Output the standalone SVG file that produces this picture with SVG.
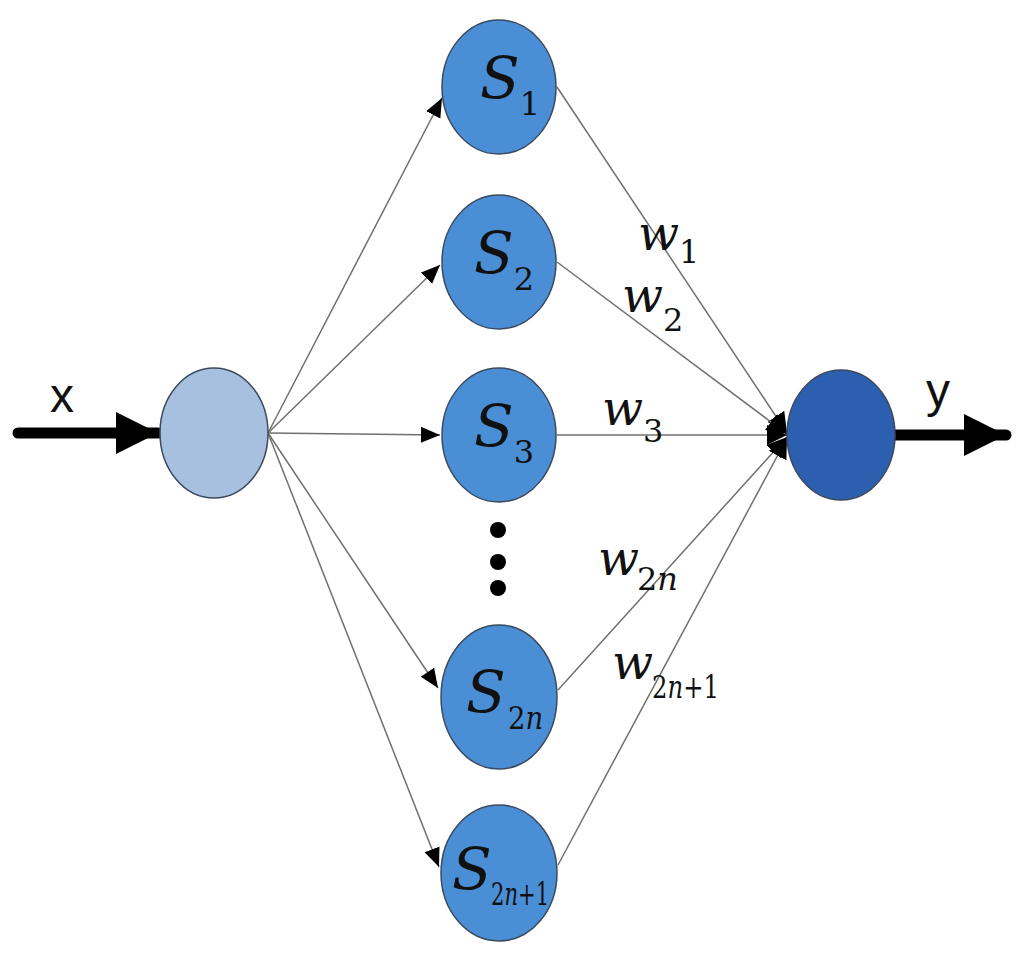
<svg xmlns="http://www.w3.org/2000/svg" width="1024" height="966" viewBox="0 0 1024 966">
<defs>
<marker id="ah" markerUnits="userSpaceOnUse" markerWidth="22" markerHeight="18" refX="19" refY="8" orient="auto">
<path d="M0,0 L19,8 L0,16 z" fill="#000"/>
</marker>
<marker id="ah2" markerUnits="userSpaceOnUse" markerWidth="24" markerHeight="22" refX="20" refY="10" orient="auto">
<path d="M0,0 L20,10 L0,20 z" fill="#000"/>
</marker>
<marker id="big" markerUnits="userSpaceOnUse" markerWidth="44" markerHeight="44" refX="42" refY="21" orient="auto">
<path d="M0,0 L42,21 L0,42 z" fill="#000"/>
</marker>
<style>
.c{stroke:#707070;stroke-width:1.5;fill:none}
.thick{stroke:#000;stroke-width:11;stroke-linecap:round;fill:none}
.nd{stroke:#3c4a5e;stroke-width:1.5}
.s{fill:#4a8fd6}
.m{font-family:"DejaVu Serif","Liberation Serif",serif;font-style:italic;fill:#111}
.n{font-style:normal}
.sub{font-size:32px;letter-spacing:-1px}
.lab{font-size:48px;fill:#111;font-family:"Liberation Sans",Arial,sans-serif}
</style>
</defs>
<rect width="1024" height="966" fill="#fff"/>
<g id="connectors">
<line class="thick" x1="18" y1="433" x2="158" y2="433" marker-end="url(#big)"/>
<line class="thick" x1="895" y1="435" x2="1006" y2="435" marker-end="url(#big)"/>
<line class="c" x1="268" y1="433" x2="442" y2="98" marker-end="url(#ah)"/>
<line class="c" x1="268" y1="433" x2="440" y2="265" marker-end="url(#ah)"/>
<line class="c" x1="268" y1="433" x2="440" y2="435" marker-end="url(#ah)"/>
<line class="c" x1="268" y1="433" x2="438" y2="688" marker-end="url(#ah)"/>
<line class="c" x1="268" y1="433" x2="439" y2="867" marker-end="url(#ah)"/>
<line class="c" x1="557" y1="87" x2="787" y2="433" marker-end="url(#ah2)"/>
<line class="c" x1="557" y1="262" x2="787" y2="434" marker-end="url(#ah2)"/>
<line class="c" x1="557" y1="435" x2="787" y2="435" marker-end="url(#ah2)"/>
<line class="c" x1="558" y1="690" x2="787" y2="437" marker-end="url(#ah2)"/>
<line class="c" x1="558" y1="865" x2="787" y2="438" marker-end="url(#ah2)"/>
</g>
<g id="input">
<ellipse class="nd" cx="214" cy="433" rx="54" ry="65" fill="#a8c0df"/>
<text class="lab" x="50" y="412">x</text>
</g>
<g id="output">
<ellipse class="nd" cx="841" cy="435" rx="54" ry="65" fill="#2c5fb0"/>
<text class="lab" x="926" y="407">y</text>
</g>
<g id="S1">
<ellipse class="nd s" cx="499" cy="87" rx="57" ry="67"/>
<text class="m" x="480" y="98" font-size="58">S<tspan class="n sub" dy="17">1</tspan></text>
</g>
<g id="S2">
<ellipse class="nd s" cx="499" cy="262" rx="57" ry="67"/>
<text class="m" x="474" y="273" font-size="58">S<tspan class="n sub" dy="17">2</tspan></text>
</g>
<g id="S3">
<ellipse class="nd s" cx="499" cy="435" rx="57" ry="67"/>
<text class="m" x="474" y="446" font-size="58">S<tspan class="n sub" dy="17">3</tspan></text>
</g>
<g id="dots" fill="#000">
<circle cx="498" cy="530" r="8"/>
<circle cx="498" cy="562" r="8"/>
<circle cx="498" cy="588" r="8"/>
</g>
<g id="S2n">
<ellipse class="nd s" cx="499" cy="697" rx="58" ry="72"/>
<text class="m" x="466" y="712" font-size="58">S</text>
<text class="m" transform="translate(508 729) scale(0.86 1)" font-size="32"><tspan class="n">2</tspan>n</text>
</g>
<g id="S2n1">
<ellipse class="nd s" cx="499" cy="873" rx="58" ry="68"/>
<text class="m" x="452" y="889" font-size="58">S</text>
<text class="m" transform="translate(491 905) scale(0.66 1)" font-size="32"><tspan class="n">2</tspan>n<tspan class="n">+1</tspan></text>
</g>
<g id="weights">
<text class="m" x="638" y="250" font-size="48">w<tspan class="n sub" dy="13">1</tspan></text>
<text class="m" x="622" y="312" font-size="48">w<tspan class="n sub" dy="19">2</tspan></text>
<text class="m" x="602" y="425" font-size="48">w<tspan class="n sub" dy="17">3</tspan></text>
<text class="m" x="598" y="575" font-size="48">w</text>
<text class="m" x="637" y="590" font-size="32"><tspan class="n">2</tspan>n</text>
<text class="m" x="612" y="679" font-size="48">w</text>
<text class="m" transform="translate(652 698) scale(0.76 1)" font-size="32"><tspan class="n">2</tspan>n<tspan class="n">+1</tspan></text>
</g>
</svg>
